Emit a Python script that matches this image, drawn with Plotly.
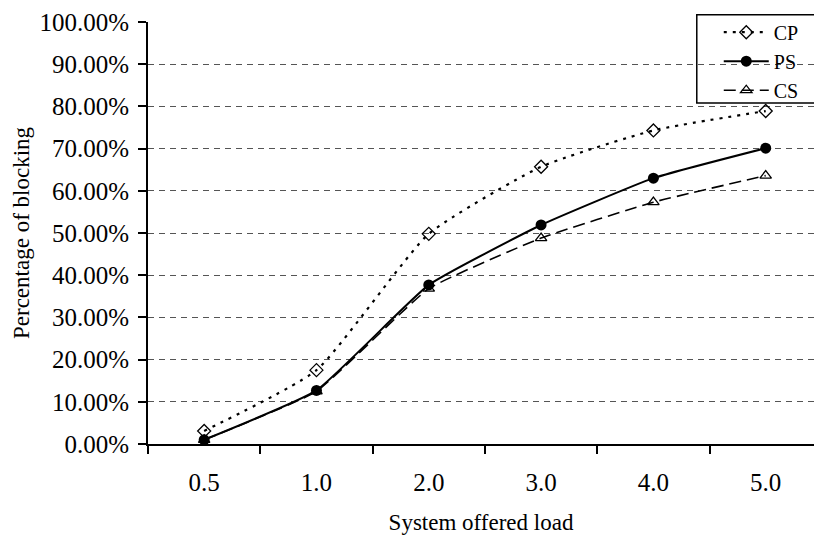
import plotly.graph_objects as go

loads = ["0.5", "1.0", "2.0", "3.0", "4.0", "5.0"]
cp = [0.031, 0.175, 0.498, 0.657, 0.743, 0.789]
ps = [0.010, 0.127, 0.377, 0.519, 0.630, 0.701]
cs = [0.010, 0.125, 0.368, 0.488, 0.573, 0.636]

font_family = "Liberation Serif, Times New Roman, serif"

fig = go.Figure()
fig.add_trace(go.Scatter(
    x=loads, y=cp, name="CP", mode="lines+markers",
    line=dict(color="black", width=2.2, dash="3px,6px", shape="spline", smoothing=0.5),
    marker=dict(symbol="diamond-open", size=10, color="black", line=dict(width=1.3)),
))
fig.add_trace(go.Scatter(
    x=loads, y=ps, name="PS", mode="lines+markers",
    line=dict(color="black", width=2, shape="spline", smoothing=0.4),
    marker=dict(symbol="circle", size=11, color="black"),
))
fig.add_trace(go.Scatter(
    x=loads, y=cs, name="CS", mode="lines+markers",
    line=dict(color="black", width=1.6, dash="12px,6px", shape="spline", smoothing=0.4),
    marker=dict(symbol="triangle-up-open", size=10, color="black", line=dict(width=1.3)),
))

# legend frame (extends past the right edge as in the reference)
fig.add_shape(
    type="rect", xref="paper", yref="paper",
    x0=0.824, x1=1.03, y0=0.808, y1=1.017,
    line=dict(color="black", width=1.5), fillcolor="white", layer="between",
)

fig.update_layout(
    width=814, height=540,
    margin=dict(l=148, r=0, t=22, b=96),
    paper_bgcolor="white", plot_bgcolor="white",
    font=dict(family=font_family, color="black", size=23),
    showlegend=True,
    legend=dict(
        x=0.857, y=1.022, xanchor="left", yanchor="top",
        bgcolor="rgba(0,0,0,0)", borderwidth=0,
        font=dict(size=20, family=font_family),
        itemwidth=45, tracegroupgap=0,
    ),
    xaxis=dict(
        type="category", range=[-0.5, 5.43],
        showline=True, linecolor="black", linewidth=1.8,
        ticks="outside", tickson="boundaries", ticklen=8, tickcolor="black", tickwidth=1.5,
        showgrid=False,
        tickfont=dict(size=25),
        ticklabelstandoff=15,
        title=dict(text="System offered load", font=dict(size=23), standoff=19),
    ),
    yaxis=dict(
        range=[0, 1.0], dtick=0.1, tickformat=".2%",
        showline=True, linecolor="black", linewidth=1.8,
        ticks="outside", ticklen=8, tickcolor="black", tickwidth=1.5,
        showgrid=True, gridcolor="#555", griddash="6px,5px", gridwidth=1,
        zeroline=False,
        tickfont=dict(size=25),
        ticklabelstandoff=4,
        title=dict(text="Percentage of blocking", font=dict(size=23), standoff=3),
    ),
)

fig.write_html("out.html")
